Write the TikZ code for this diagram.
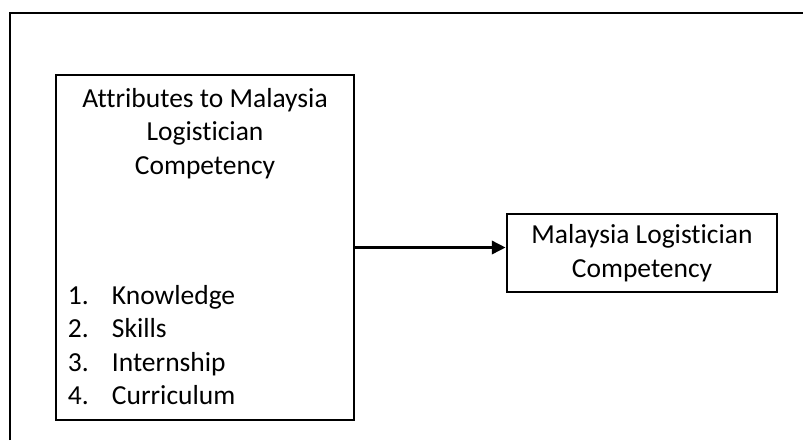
\documentclass[tikz,border=0pt]{standalone}
\usepackage{fontspec}
\setmainfont[Ligatures=NoCommon]{Carlito}
\usepackage{tikz}
\usetikzlibrary{arrows.meta, positioning, calc}

\begin{document}
\begin{tikzpicture}[x=1pt,y=-1pt,
		box/.style={draw,line width=2.5pt,inner sep=0pt},
		txt/.style={font=\fontsize{27.5}{33.5}\selectfont,inner sep=0pt}]
	\useasboundingbox (0,0) rectangle (803,440);
	\draw[line width=1.8pt] (10,440) -- (10,13) -- (803,13);
	\node[box,minimum width=298pt,minimum height=345pt] (attr) at (205,247.5) {};
	\node[txt,align=center,anchor=north] (attrtitle) at ([yshift=-14pt]attr.north) {Attributes to Malaysia\\Logistician\\Competency};
	\node[txt,align=left,anchor=south west] (attrlist) at ([xshift=13pt,yshift=16pt]attr.south west)
		{\makebox[44pt][l]{1.}Knowledge\\\makebox[44pt][l]{2.}Skills\\\makebox[44pt][l]{3.}Internship\\\makebox[44pt][l]{4.}Curriculum};
	\node[box,txt,minimum width=270pt,minimum height=78pt,align=center] (comp) at (642,253) {Malaysia Logistician\\Competency};
	\draw[line width=3.5pt,-{Triangle[length=14pt,width=13pt]}] (attr.east) -- (attr.east -| comp.west);
\end{tikzpicture}
\end{document}
